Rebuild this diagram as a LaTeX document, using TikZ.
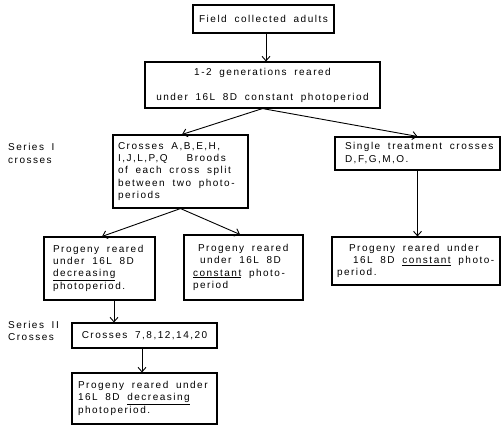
\documentclass[tikz,border=0pt]{standalone}
\usepackage{fontspec}
\setmainfont{Liberation Sans}[LetterSpace=15,WordSpace=1.8]
\usetikzlibrary{arrows.meta}
\newcommand\boxfont{\fontsize{10}{12.3}\selectfont}
\newcommand\lft[2]{\makebox[#1][l]{\begin{tabular}{@{}l@{}}#2\end{tabular}}}
\begin{document}
\begin{tikzpicture}[x=1pt,y=-1pt,
  box/.style={draw,line width=1.1pt,inner ysep=0pt,inner xsep=0pt,font=\boxfont},
  conn/.style={line width=0.9pt,-{Straight Barb[length=4.5pt,width=8pt]}},
  lbl/.style={align=left,inner sep=0pt,font=\fontsize{10}{12.8}\selectfont}]
\useasboundingbox (0,0) rectangle (502,426);

\node[box,minimum width=141pt,minimum height=28pt] (f) at (263.5,19) {Field collected adults};
\node[box,align=center,minimum width=235pt,minimum height=46pt] (g) at (262.5,85)
  {1-2 generations reared\\[12.7pt]under 16L 8D constant photoperiod};

\node[box,minimum width=135pt,minimum height=73pt] (c3) at (180.5,171.5)
  {\lft{125pt}{Crosses A,B,E,H,\\I,J,L,P,Q\hspace{19pt}Broods\\of each cross split\\between two photo-\\periods}};
\node[box,minimum width=165pt,minimum height=33pt] (s) at (417.5,153.5)
  {\lft{145pt}{Single treatment crosses\\D,F,G,M,O.}};

\node[box,minimum width=111pt,minimum height=63pt] (p1) at (99.5,268.5)
  {\lft{93pt}{Progeny reared\\under 16L 8D\\\underline{decreasing}\\photoperiod.}};
\node[box,minimum width=119pt,minimum height=65pt] (p2) at (243.5,267.5)
  {\lft{101pt}{\hspace*{5pt}Progeny reared\\\hspace*{7pt}under 16L 8D\\\underline{constant} photo-\\period}};
\node[box,minimum width=168pt,minimum height=48pt] (p3) at (416,261)
  {\lft{158pt}{\hspace*{12pt}Progeny reared under\\\hspace*{16pt}16L 8D \underline{constant} photo-\\period.}};

\node[box,minimum width=145pt,minimum height=25pt] (c7) at (144.5,335.5) {Crosses 7,8,12,14,20};
\node[box,minimum width=145pt,minimum height=51pt] (p4) at (144.5,398.5)
  {\lft{133pt}{Progeny reared under\\16L 8D \underline{decreasing}\\photoperiod.}};

\node[lbl,anchor=west] (l1) at (8,153.5) {Series I\\crosses};
\node[lbl,anchor=west] (l2) at (8,331) {Series II\\Crosses};

\draw[conn] ([xshift=2.5pt]f.south) -- ([xshift=2.5pt]f.south |- g.north);
\draw[conn] (g.south) -- ([xshift=1.5pt]c3.north);
\draw[conn] (g.south) -- (s.north);
\draw[conn] (c3.south) -- ([xshift=2.5pt]p1.north);
\draw[conn] (c3.south) -- ([xshift=-3.5pt]p2.north);
\draw[conn] (s.south) -- (s.south |- p3.north);
\draw[conn] ([xshift=14.5pt]p1.south) -- ([xshift=14.5pt]p1.south |- c7.north);
\draw[conn] ([xshift=-2.5pt]c7.south) -- ([xshift=-2.5pt]c7.south |- p4.north);
\end{tikzpicture}
\end{document}
